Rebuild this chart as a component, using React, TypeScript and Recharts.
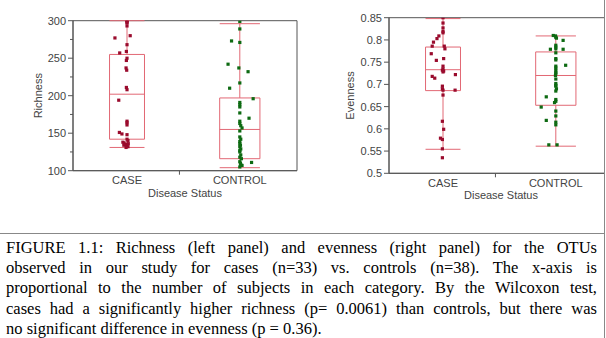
import { ComposedChart, Scatter, XAxis, YAxis, ReferenceArea, ReferenceLine } from 'recharts';

const groups = ['CASE', 'CONTROL'];
const groupN = [33, 38];
// x-axis is in "subjects": each group gets a slot proportional to its n
const groupCenter = [16.5, 52];
const groupSplit = 33;
const xDomain = [-0.5, 70];

const caseRichness = [300, 300, 298, 297, 293, 280, 277, 268, 259, 257, 250, 247, 237, 234, 211, 208, 194, 166, 164, 161, 151, 149, 148, 142, 140, 138, 137, 136, 135, 134, 133, 132, 131];
const caseRichJitter = [0, 0, 0, 0, 0, 1.0, -3.8, 0, -0.2, -2.3, 0, -0.2, -0.3, -0.1, -0.2, 0, -2.6, 0, 0, 0, -2.4, -1.6, 0, 0, 0.3, -1.3, -0.9, 0.4, -0.3, -1.0, 0, 0.3, -0.3];
const controlRichness = [299, 289, 273, 271, 242, 237, 232, 217, 210, 196, 191, 188, 185, 177, 170, 166, 163, 160, 157, 153, 145, 142, 139, 136, 134, 132, 129, 127, 125, 121, 118, 116, 112, 111, 110, 108, 107, 105];
const controlRichJitter = [0, 0, -2.6, 0, -3.7, -0.3, 2.6, 0, -3.2, 4.2, 0, 0, 0, 0, 2.9, 0, 0, 0.3, 0.7, 0, 0, 0.3, 0, 0, 0.2, 0, 0.3, 0, 0, 0.3, 0, 0.5, 0, 3.7, 0.2, 0.3, 0.7, 0];

const caseEvenness = [0.85, 0.838, 0.827, 0.819, 0.816, 0.809, 0.803, 0.795, 0.786, 0.786, 0.78, 0.769, 0.758, 0.754, 0.741, 0.735, 0.732, 0.73, 0.728, 0.722, 0.718, 0.714, 0.696, 0.69, 0.687, 0.687, 0.676, 0.617, 0.599, 0.579, 0.576, 0.555, 0.535];
const caseEvenJitter = [0, 0, 0, 0, 0, -1.3, -1.9, -3.0, -3.4, 0.4, 0.6, -3.7, 0.2, -2.1, 0, 0, -0.2, 0.2, 0, 3.9, -3.4, -2.6, -0.2, -0.2, 0, 3.8, 0, -0.2, 0.2, -0.8, -0.2, -0.2, -0.2];
const controlEvenness = [0.81, 0.809, 0.806, 0.804, 0.799, 0.788, 0.784, 0.78, 0.779, 0.779, 0.771, 0.758, 0.755, 0.743, 0.741, 0.737, 0.732, 0.727, 0.724, 0.72, 0.712, 0.702, 0.698, 0.696, 0.69, 0.685, 0.672, 0.666, 0.662, 0.659, 0.649, 0.64, 0.629, 0.619, 0.615, 0.609, 0.564, 0.564];
const controlEvenJitter = [-0.8, -0.1, 0, 0.2, 2.3, 0, 0, 0, -1.7, 2.3, 0, 0, 0, 3.1, 0, 0, 0, 0, 0, -0.1, 0, 0, 0, 0, 0.2, 0, -3.0, 0, 0, -0.4, -4.6, 0, 0, -3.0, 0, 0, -2.2, 0.4];

// [low whisker, Q1, median, Q3, high whisker] per group
const richnessStats = [[131, 142, 202, 255, 300], [104, 116, 155, 197, 296]];
const evennessStats = [[0.554, 0.686, 0.733, 0.784, 0.848], [0.561, 0.653, 0.72, 0.773, 0.809]];

const richnessTicks = [100, 150, 200, 250, 300];
const richnessMinor = [125, 175, 225, 275];
const evennessTicks = [0.5, 0.55, 0.6, 0.65, 0.7, 0.75, 0.8, 0.85];

const captionLines = [
  'FIGURE 1.1: Richness (left panel) and evenness (right panel) for the OTUs',
  'observed in our study for cases (n=33) vs. controls (n=38).  The x-axis is',
  'proportional to the number of subjects in each category.  By the Wilcoxon test,',
  'cases had a significantly higher richness (p= 0.0061) than controls, but there was',
  'no significant difference in evenness (p = 0.36).',
];

const FONT = '"Liberation Sans", Arial, sans-serif';
const AXIS = '#555';
const LABEL = '#444';
const BOX = '#e26874';
const DOT = ['#9a0b2d', '#0d6a12'];
const CHART_H = 215;

const dotShape = (color: string) => (p: any) => (
  <rect x={p.cx - 1.6} y={p.cy - 1.6} width={3.2} height={3.2} fill={color} />
);

function XTick(props: any) {
  const { x, y, payload } = props;
  const v = payload.value;
  if (v === groupSplit) {
    return <line x1={x} x2={x} y1={y - 7} y2={y - 3} stroke={AXIS} />;
  }
  const g = groupCenter.indexOf(v);
  return (
    <text x={x} y={y + 6.3} textAnchor="middle" fontSize={11} fontFamily={FONT} fill={LABEL}>
      {groups[g]}
    </text>
  );
}

function YTick(props: any) {
  const { x, y, payload, major } = props;
  const v = payload.value;
  const ax = x + 7;
  const isMajor = major.includes(v);
  return (
    <g>
      <line x1={ax - (isMajor ? 5 : 3)} x2={ax} y1={y} y2={y} stroke={AXIS} />
      {isMajor && (
        <text x={x} y={y + 4} textAnchor="end" fontSize={11} fontFamily={FONT} fill={LABEL}>
          {String(v)}
        </text>
      )}
    </g>
  );
}

type PanelProps = {
  yLabel: string;
  yLabelX: number;
  domain: number[];
  ticks: number[];
  minor: number[];
  values: number[][];
  jitter: number[][];
  stats: number[][];
  top: number;
  bottom: number;
};

function Panel({ yLabel, yLabelX, domain, ticks, minor, values, jitter, stats, top, bottom }: PanelProps) {
  const series = values.map((vals, g) => vals.map((v, i) => ({ x: groupCenter[g] + jitter[g][i], y: v })));
  const allTicks = [...ticks, ...minor].sort((a, b) => a - b);
  const midY = (top + bottom) / 2;

  return (
    <ComposedChart width={300} height={CHART_H} margin={{ top, right: 3, bottom: 0, left: 33 }}>
      <XAxis
        type="number"
        dataKey="x"
        domain={xDomain}
        ticks={[groupCenter[0], groupSplit, groupCenter[1]]}
        interval={0}
        allowDataOverflow
        tickLine={false}
        tickSize={5}
        tickMargin={2}
        axisLine={{ stroke: AXIS }}
        height={CHART_H - bottom}
        tick={(p: any) => <XTick {...p} />}
        label={{
          content: () => (
            <text x={185} y={bottom + 26} textAnchor="middle" fontSize={11} fontFamily={FONT} fill={LABEL}>
              Disease Status
            </text>
          ),
        }}
      />
      <YAxis
        type="number"
        dataKey="y"
        domain={domain}
        ticks={allTicks}
        interval={0}
        allowDataOverflow
        tickLine={false}
        tickSize={5}
        tickMargin={2}
        axisLine={{ stroke: AXIS }}
        width={40}
        tick={(p: any) => <YTick {...p} major={ticks} />}
        label={{
          content: () => (
            <text
              x={yLabelX}
              y={midY}
              transform={`rotate(-90 ${yLabelX} ${midY})`}
              textAnchor="middle"
              fontSize={11}
              fontFamily={FONT}
              fill={LABEL}
            >
              {yLabel}
            </text>
          ),
        }}
      />
      {stats.map(([lo, q1, med, q3, hi], g) => {
        const c = groupCenter[g];
        const w = groupN[g] / 6;
        return [
          <ReferenceArea key={`box${g}`} x1={c - w} x2={c + w} y1={q1} y2={q3} fill="none" stroke={BOX} strokeOpacity={1} ifOverflow="visible" />,
          <ReferenceLine key={`med${g}`} segment={[{ x: c - w, y: med }, { x: c + w, y: med }]} stroke={BOX} ifOverflow="visible" />,
          <ReferenceLine key={`wlo${g}`} segment={[{ x: c, y: lo }, { x: c, y: q1 }]} stroke={BOX} ifOverflow="visible" />,
          <ReferenceLine key={`whi${g}`} segment={[{ x: c, y: q3 }, { x: c, y: hi }]} stroke={BOX} ifOverflow="visible" />,
          <ReferenceLine key={`clo${g}`} segment={[{ x: c - w, y: lo }, { x: c + w, y: lo }]} stroke={BOX} ifOverflow="visible" />,
          <ReferenceLine key={`chi${g}`} segment={[{ x: c - w, y: hi }, { x: c + w, y: hi }]} stroke={BOX} ifOverflow="visible" />,
        ];
      })}
      <ReferenceArea x1={xDomain[0]} x2={xDomain[1]} y1={domain[0]} y2={domain[1]} fill="none" stroke={AXIS} strokeOpacity={1} ifOverflow="visible" />
      {series.map((d, g) => (
        <Scatter key={g} data={d} shape={dotShape(DOT[g])} isAnimationActive={false} />
      ))}
    </ComposedChart>
  );
}

export default function App() {
  return (
    <div style={{ position: 'absolute', left: 0, top: 0, width: 606, height: 338, overflow: 'hidden', background: '#fff' }}>
      <div style={{ position: 'absolute', left: 0, top: 0 }}>
        <Panel
          yLabel="Richness"
          yLabelX={42.5}
          domain={[100, 300]}
          ticks={richnessTicks}
          minor={richnessMinor}
          values={[caseRichness, controlRichness]}
          jitter={[caseRichJitter, controlRichJitter]}
          stats={richnessStats}
          top={20.7}
          bottom={170.7}
        />
      </div>
      <div style={{ position: 'absolute', left: 316, top: 0, width: 288, height: CHART_H, overflow: 'hidden' }}>
        <Panel
          yLabel="Evenness"
          yLabelX={38}
          domain={[0.5, 0.85]}
          ticks={evennessTicks}
          minor={[]}
          values={[caseEvenness, controlEvenness]}
          jitter={[caseEvenJitter, controlEvenJitter]}
          stats={evennessStats}
          top={17.7}
          bottom={173.3}
        />
      </div>
      <div style={{ position: 'absolute', left: 604, top: 0, width: 1, height: 338, background: '#888' }} />
      <div style={{ position: 'absolute', left: 0, top: 233, width: 605, height: 1, background: '#888' }} />
      <div
        style={{
          position: 'absolute',
          left: 6,
          top: 237.7,
          width: 591,
          fontFamily: '"Liberation Serif", "Times New Roman", serif',
          fontSize: 16.5,
          lineHeight: '20.4px',
          color: '#000',
        }}
      >
        {captionLines.map((line, i) => (
          <div
            key={i}
            style={{
              height: 20.4,
              whiteSpace: 'nowrap',
              textAlign: 'justify',
              textAlignLast: i === captionLines.length - 1 ? 'left' : 'justify',
            }}
          >
            {line}
          </div>
        ))}
      </div>
    </div>
  );
}
